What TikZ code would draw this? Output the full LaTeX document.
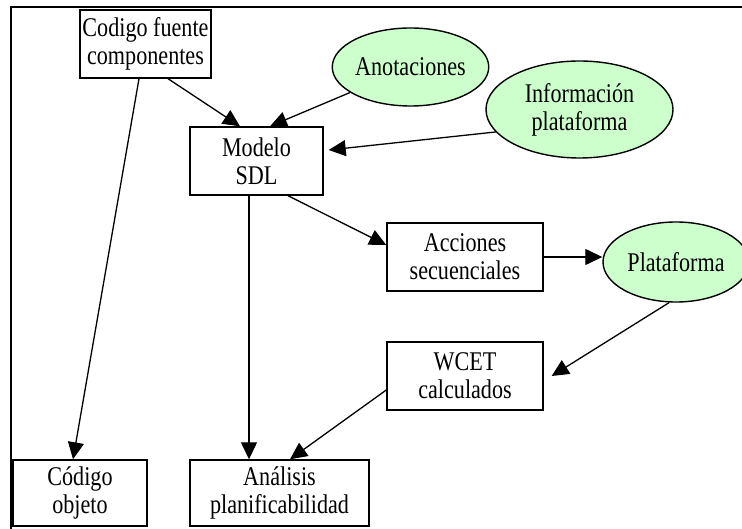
\documentclass[tikz,border=0pt]{standalone}
\usepackage{fontspec}
\setmainfont{Liberation Serif}[FakeStretch=0.82]
\usetikzlibrary{shapes.geometric,arrows.meta}
\definecolor{datafill}{RGB}{204,255,204}
\begin{document}
\begin{tikzpicture}[x=1pt,y=-1pt,
  every node/.style={font=\fontsize{27}{28}\selectfont, align=center, inner sep=0pt},
  procbox/.style={draw, line width=1.4pt, rectangle, minimum height=68pt},
  datanode/.style={draw, line width=1.4pt, ellipse, fill=datafill},
  flow/.style={line width=1.3pt, -{Triangle[length=17pt,width=16pt]}}]
\useasboundingbox (0,0) rectangle (742,529);

% outer frame (top and left edges)
\draw[line width=2.6pt] (11,529) -- (11,7) -- (742,7);

% processing steps and artefacts
\node[procbox, minimum width=131pt] (codigo)   at (145.5,44)  {Codigo fuente\\componentes};
\node[procbox, minimum width=133pt] (modelo)   at (256.5,161) {Modelo\\SDL};
\node[procbox, minimum width=156pt] (acciones) at (465,257)   {Acciones\\secuenciales};
\node[procbox, minimum width=156pt] (wcet)     at (465,376)   {WCET\\calculados};
\node[procbox, minimum width=134pt, minimum height=66pt] (objeto)   at (80,493)    {Código\\objeto};
\node[procbox, minimum width=179pt, minimum height=66pt] (analisis) at (279.5,493) {Análisis\\planificabilidad};

% external inputs
\node[datanode, minimum width=155pt, minimum height=78pt] (anot) at (410.5,67) {Anotaciones};
\node[datanode, minimum width=187pt, minimum height=97pt] (info) at (579.5,109.5) {Información\\plataforma};
\node[datanode, minimum width=146pt, minimum height=80pt] (plat) at (676,262) {Plataforma};

% data flow
\draw[flow] ([xshift=22.5pt]codigo.south) -- ([xshift=-16.5pt]modelo.north);
\draw[flow] (anot) -- ([xshift=13.5pt]modelo.north);
\draw[flow] (info.195) -- ([shift={(5pt,11pt)}]modelo.east);
\draw[flow] ([xshift=-6.5pt]codigo.south) -- ([xshift=-7pt]objeto.north);
\draw[flow] ([xshift=-7.5pt]modelo.south) -- ([xshift=-30.5pt]analisis.north);
\draw[flow] ([xshift=31.5pt]modelo.south) -- ([yshift=12pt]acciones.west);
\draw[flow] (acciones.east) -- (acciones.east -| plat.west);
\draw[flow] ([xshift=-7pt]plat.south) -- ([xshift=8pt]wcet.east);
\draw[flow] ([yshift=-14pt]wcet.west) -- ([xshift=10.5pt]analisis.north);
\end{tikzpicture}
\end{document}
